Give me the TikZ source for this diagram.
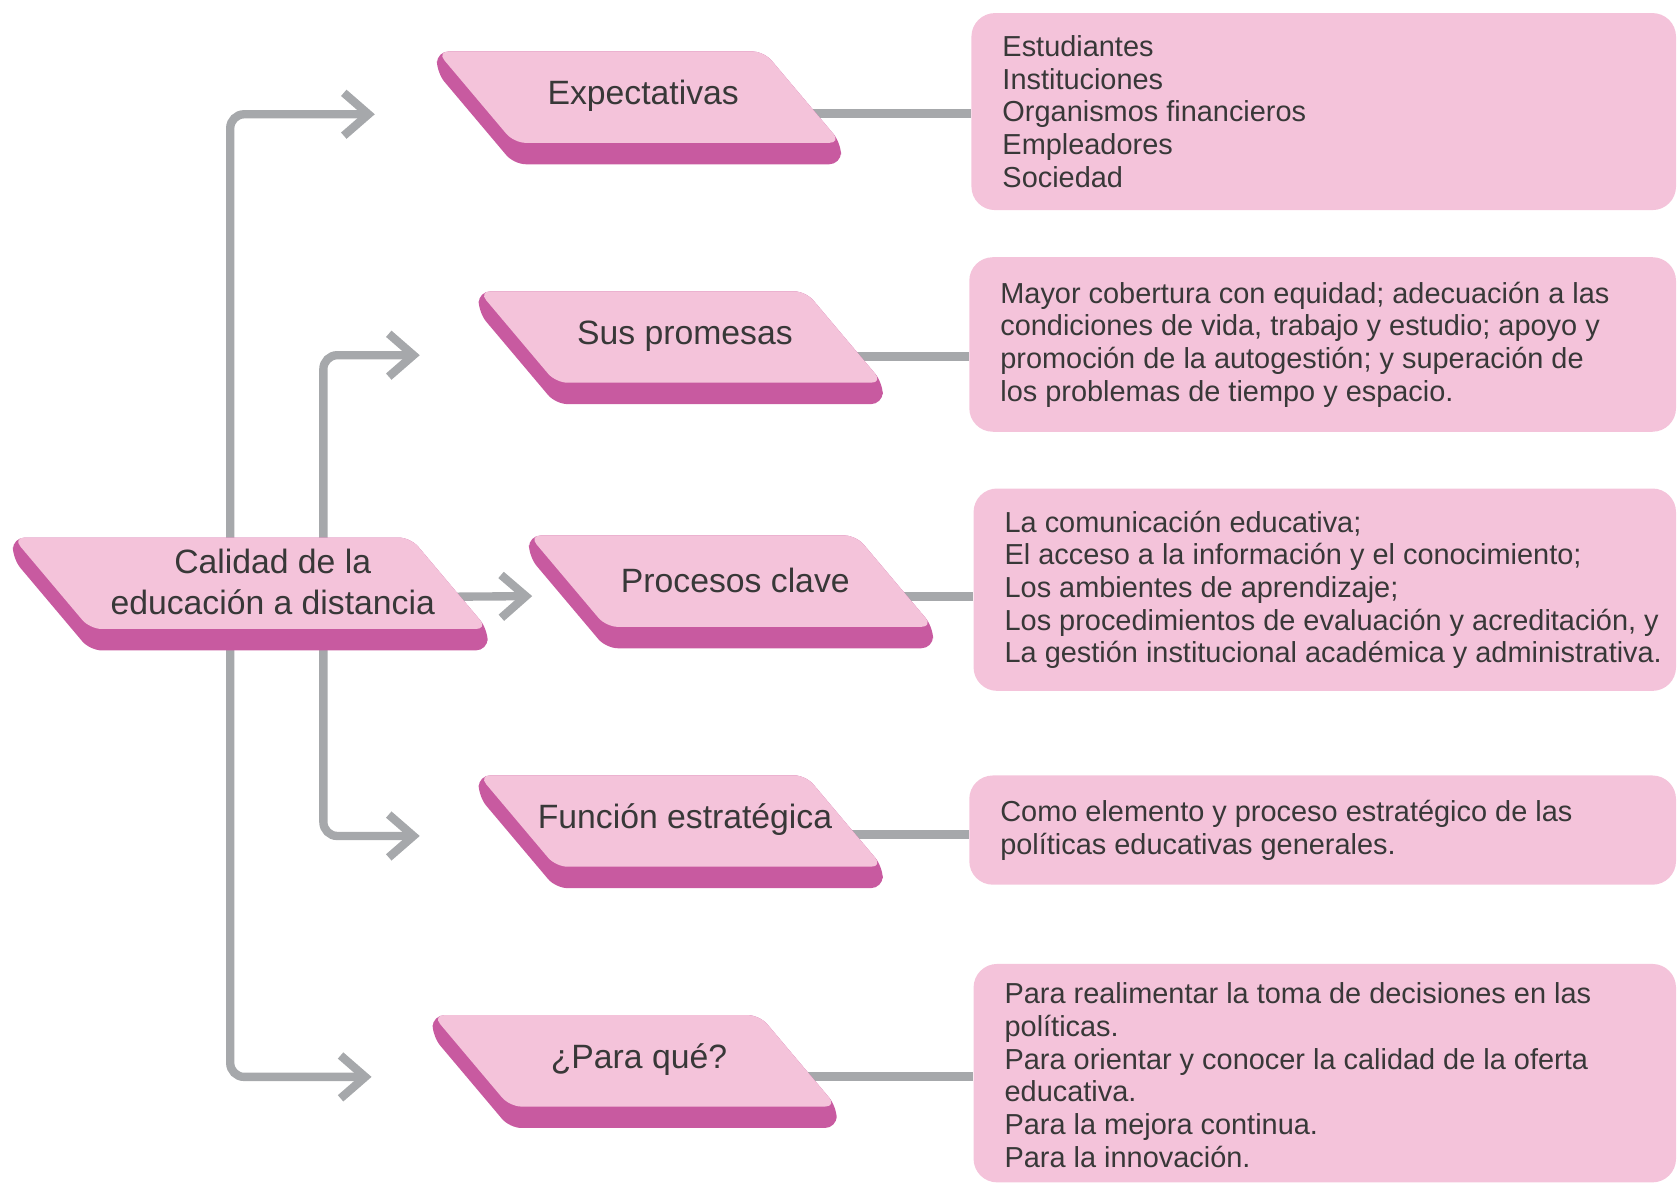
\documentclass[tikz,border=0pt]{standalone}
\usepackage{fontspec}
\setmainfont{Liberation Sans}
\usetikzlibrary{arrows.meta}
\definecolor{lpink}{HTML}{F4C3DA}
\definecolor{dpink}{HTML}{C85AA0}
\definecolor{cgray}{HTML}{A6A8AB}
\definecolor{txt}{HTML}{383838}
\pgfdeclarelayer{conn}
\pgfdeclarelayer{slabs}
\pgfsetlayers{conn,slabs,main}
\newcommand\slabfaces[1]{%
\begin{pgfonlayer}{slabs}
\fill[dpink,rounded corners=11pt] (#1.north west) -- ([xshift=-72pt]#1.north east) -- (#1.south east) -- ([yshift=-20pt]#1.south east) -- ([xshift=72pt,yshift=-20pt]#1.south west) -- ([yshift=-20pt]#1.north west) -- cycle;
\fill[lpink,rounded corners=11pt] (#1.north west) -- ([xshift=-72pt]#1.north east) -- (#1.south east) -- ([xshift=72pt]#1.south west) -- cycle;
\end{pgfonlayer}}
\tikzset{
  slab/.style={rectangle, minimum width=377pt, minimum height=85pt, inner sep=0pt, anchor=north west},
  slabtext/.style={font=\fontsize{31.5}{38}\selectfont, text=txt, align=center, inner sep=0pt, xshift=4pt, yshift=1pt},
  infobox/.style={rectangle, fill=lpink, rounded corners=22pt, anchor=north west, inner sep=0pt},
  boxtext/.style={font=\fontsize{27}{30.5}\selectfont, text=txt, align=left, anchor=west, inner sep=0pt, xshift=29pt},
  tree/.style={draw=cgray, line width=7.8pt, rounded corners=13pt, -{Straight Barb[length=23pt,width=40pt]}},
  rline/.style={draw=cgray, line width=8.5pt},
}
\begin{document}
\begin{tikzpicture}[x=1pt,y=-1pt]
\useasboundingbox (0,0) rectangle (1568,1104);
% slabs
\node[slab, minimum width=443pt, label={[slabtext, xshift=17pt]center:{Calidad de la\\educación a distancia}}] (calidad) at (12,502) {};
\node[slab, label={[slabtext]center:Expectativas}] (expect) at (408,48) {};
\node[slab, label={[slabtext]center:Sus promesas}] (promesas) at (447,272) {};
\node[slab, label={[slabtext]center:Procesos clave}] (procesos) at (494,500) {};
\node[slab, label={[slabtext]center:Función estratégica}] (funcion) at (447,724) {};
\node[slab, label={[slabtext]center:¿Para qué?}] (paraque) at (404,948) {};
\slabfaces{calidad}\slabfaces{expect}\slabfaces{promesas}\slabfaces{procesos}\slabfaces{funcion}\slabfaces{paraque}
% boxes
\node[infobox, minimum width=658pt, minimum height=184pt, label={[boxtext]west:{Estudiantes\\Instituciones\\Organismos financieros\\Empleadores\\Sociedad}}] (box1) at (907,12) {};
\node[infobox, minimum width=660pt, minimum height=163pt, label={[boxtext]west:{Mayor cobertura con equidad; adecuación a las\\condiciones de vida, trabajo y estudio; apoyo y\\promoción de la autogestión; y superación de\\los problemas de tiempo y espacio.}}] (box2) at (905,240) {};
\node[infobox, minimum width=656pt, minimum height=189pt, label={[boxtext]west:{La comunicación educativa;\\El acceso a la información y el conocimiento;\\Los ambientes de aprendizaje;\\Los procedimientos de evaluación y acreditación, y\\La gestión institucional académica y administrativa.}}] (box3) at (909,456) {};
\node[infobox, minimum width=660pt, minimum height=102pt, label={[boxtext]west:{Como elemento y proceso estratégico de las\\políticas educativas generales.}}] (box4) at (905,724) {};
\node[infobox, minimum width=656pt, minimum height=204pt, label={[boxtext, yshift=-2pt]west:{Para realimentar la toma de decisiones en las\\políticas.\\Para orientar y conocer la calidad de la oferta\\educativa.\\Para la mejora continua.\\Para la innovación.}}] (box5) at (909,900) {};
% connectors
\coordinate (jo) at (215,550);
\coordinate (ji) at (302,550);
\begin{pgfonlayer}{conn}
\draw[tree, shorten >=58pt] (jo) |- ([yshift=-16pt]expect.west);
\draw[tree, shorten >=55pt] (ji) |- ([yshift=-17pt]promesas.west);
\draw[tree] ([yshift=-14pt]calidad.center) -- ([xshift=3pt,yshift=-14pt]procesos.west);
\draw[tree, shorten >=55pt] (ji) |- ([yshift=-14pt]funcion.west);
\draw[tree, shorten >=57pt] (jo) |- ([yshift=-15pt]paraque.west);
\draw[rline] ([yshift=-15pt]expect.center) -- ([yshift=-15pt]expect.center -| box1.west);
\draw[rline] ([yshift=-18pt]promesas.center) -- ([yshift=-18pt]promesas.center -| box2.west);
\draw[rline] ([yshift=-14pt]procesos.center) -- ([yshift=-14pt]procesos.center -| box3.west);
\draw[rline] ([yshift=-13pt]funcion.center) -- ([yshift=-13pt]funcion.center -| box4.west);
\draw[rline] ([yshift=-15pt]paraque.center) -- ([yshift=-15pt]paraque.center -| box5.west);
\end{pgfonlayer}
\end{tikzpicture}
\end{document}
